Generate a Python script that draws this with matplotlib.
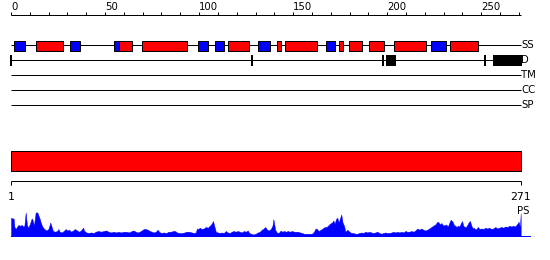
import matplotlib
matplotlib.use("Agg")
import matplotlib.pyplot as plt
from matplotlib.patches import Rectangle
import numpy as np

# ---------------- data ----------------
seq_length = 271
track_names = ["SS", "D", "TM", "CC", "SP"]
top_tick_labels = [0, 50, 100, 150, 200, 250]

# secondary structure elements (H = helix red, E = strand blue), residue ranges
ss_type = ["E", "H", "E", "E", "H", "H", "E", "E", "H", "E",
           "H", "H", "E", "H", "H", "H", "H", "E", "H"]
ss_start = [2, 14, 32, 55, 58, 70, 100, 109, 116, 132,
            142, 146, 168, 175, 180, 191, 204, 224, 234]
ss_end = [7, 27, 36, 57, 64, 93, 104, 113, 126, 137,
          143, 162, 172, 176, 186, 198, 220, 231, 248]

# disordered regions
dis_start = [0, 128, 198, 200, 252, 257]
dis_end = [0, 128, 198, 204, 252, 271]

# domain bar
domain_start = [0]
domain_end = [271]
bottom_labels = ["1", "271"]

# PS profile (position, score 0-100)
ps_pos = [0, 0, 0.7, 1.4, 1.8, 2.5, 3.2, 3.9, 4.8, 5.7, 6.6, 7.1, 7.8, 8.5, 9.2, 10.1,
          11.0, 11.5, 12.2, 13.1, 14.0, 14.5, 15.2, 16.0, 16.7, 17.7, 18.8, 19.9, 20.9,
          21.6, 22.3, 23.4, 24.5, 25.2, 25.9, 27.0, 28.0, 29.1, 29.8, 30.9, 31.9, 33.0,
          34.0, 35.1, 36.2, 37.2, 38.3, 39.0, 40.1, 41.1, 42.6, 44.0, 45.0, 46.5, 47.9,
          49.3, 50.7, 51.8, 53.2, 54.6, 56.0, 57.1, 58.5, 59.9, 61.3, 62.8, 64.2, 65.2,
          66.3, 67.4, 68.4, 69.5, 70.6, 71.6, 72.7, 73.8, 74.8, 75.9, 77.0, 78.0, 78.7,
          79.8, 81.2, 82.6, 83.7, 85.1, 86.2, 87.2, 88.3, 89.4, 90.8, 92.2, 93.3, 94.7,
          96.1, 97.2, 98.2, 98.9, 99.6, 100.4, 101.4, 102.5, 103.5, 104.6, 105.7, 106.7,
          107.4, 108.2, 108.9, 109.9, 111.0, 112.1, 113.1, 114.2, 115.2, 116.3, 117.4,
          118.4, 119.5, 120.6, 121.6, 122.7, 123.8, 124.8, 125.9, 126.6, 127.7, 128.7,
          130.1, 131.2, 132.3, 133.3, 134.4, 135.1, 136.2, 137.2, 138.3, 139.0, 139.5,
          140.5, 141.3, 142.3, 143.4, 144.1, 145.2, 146.2, 147.3, 148.3, 149.4, 150.5,
          151.5, 152.6, 153.7, 154.7, 155.8, 157.2, 158.6, 160.0, 161.1, 161.9, 162.6,
          163.6, 164.7, 165.7, 166.8, 167.8, 168.5, 169.6, 170.7, 171.4, 172.1, 172.8,
          173.5, 174.2, 174.9, 175.6, 176.3, 177.1, 177.8, 178.8, 179.9, 180.9, 182.0,
          183.1, 184.1, 185.2, 186.3, 187.3, 188.4, 189.5, 190.5, 191.6, 192.6, 193.7,
          194.8, 195.8, 196.9, 198.0, 199.0, 200.1, 201.2, 202.3, 203.3, 204.4, 205.4,
          206.5, 207.6, 208.6, 209.7, 210.7, 211.8, 212.9, 213.9, 215.0, 216.0, 217.1,
          218.2, 219.2, 220.3, 221.3, 222.4, 223.5, 224.5, 225.6, 226.7, 227.4, 228.1,
          228.8, 229.9, 230.6, 231.3, 232.3, 233.1, 233.8, 234.8, 235.5, 236.2, 236.9,
          237.6, 238.4, 239.1, 239.8, 240.5, 241.2, 241.9, 242.6, 243.3, 244.0, 244.8,
          245.5, 246.2, 246.9, 247.6, 248.3, 249.0, 250.1, 251.1, 252.2, 253.3, 254.3,
          255.4, 256.4, 257.5, 258.6, 259.6, 260.7, 261.8, 262.8, 263.9, 265.0, 266.0,
          267.1, 268.1, 269.2, 269.9, 270.6, 271.0, 271.0]
ps_val = [0, 72, 69, 69, 36, 27, 36, 43, 40, 43, 36, 40, 93, 43, 32, 49,
          69, 63, 40, 93, 93, 83, 69, 49, 36, 27, 21, 27, 53,
          36, 19, 16, 19, 27, 16, 13, 19, 27, 21, 24, 16, 21,
          27, 21, 16, 21, 32, 19, 13, 11, 13, 11, 16, 19, 16,
          19, 21, 16, 13, 16, 13, 16, 13, 16, 16, 13, 19, 21,
          16, 13, 16, 21, 27, 27, 24, 19, 16, 13, 16, 24, 16,
          11, 13, 11, 16, 16, 19, 19, 13, 11, 11, 13, 16, 16,
          13, 11, 13, 29, 27, 32, 27, 29, 35, 32, 40, 48,
          59, 36, 16, 13, 11, 13, 11, 19, 13, 11, 16,
          19, 16, 19, 16, 13, 19, 16, 21, 11, 8, 5,
          8, 13, 16, 24, 29, 35, 24, 21, 29, 40, 66,
          23, 13, 11, 21, 16, 19, 16, 19, 16, 19, 16,
          16, 16, 13, 11, 8, 8, 8, 8, 16, 29, 27,
          19, 24, 29, 35, 35, 40, 48, 53, 61, 48, 67,
          72, 53, 69, 85, 53, 40, 16, 24, 16, 11, 11,
          8, 8, 11, 13, 11, 16, 13, 16, 13, 11, 13,
          16, 11, 8, 11, 13, 11, 11, 13, 16, 13, 16,
          13, 16, 13, 19, 16, 16, 19, 16, 21, 29, 24,
          29, 24, 21, 24, 29, 35, 40, 45, 56, 53, 45,
          51, 40, 43, 45, 37, 53, 64, 56, 43, 40, 35,
          40, 37, 48, 59, 40, 35, 35, 43, 53, 59, 40,
          29, 32, 24, 29, 35, 27, 29, 27, 32, 29, 32,
          27, 29, 35, 29, 32, 35, 32, 37, 35, 40, 37,
          40, 37, 48, 56, 35, 90, 0]

# ---------------- layout ----------------
W, H = 550, 260
x0_px, px_per_res = 11.0, 1.8808
xlim = (-x0_px / px_per_res, (W - x0_px) / px_per_res)
lw1 = 0.72  # one pixel

fig = plt.figure(figsize=(5.5, 2.6), dpi=100)
ax = fig.add_axes([0, 0, 1, 1])
ax.set_xlim(*xlim)
ax.set_ylim(H, 0)
ax.axis("off")

# top ruler
ax.hlines(15, 0, seq_length, color="black", lw=lw1)
ax.vlines(np.arange(0, seq_length, 10), 12, 15, color="black", lw=lw1)
for t in top_tick_labels:
    ax.text(t, 10, str(t), ha="left", va="baseline", fontsize=7.3, color="black")

# tracks
track_y = [45, 60, 75, 90, 105]
for name, y in zip(track_names, track_y):
    ax.hlines(y, 0, seq_length, color="black", lw=lw1)
    ax.text(seq_length + 0.4, y, name, ha="left", va="center", fontsize=7.3, color="black")

ss_colors = {"H": "#ff0000", "E": "#0000ff"}
for t, s, e in zip(ss_type, ss_start, ss_end):
    ax.add_patch(Rectangle((s - 0.5, 40.5), e - s + 1, 10, facecolor=ss_colors[t],
                           edgecolor="black", lw=lw1, zorder=3))

for s, e in zip(dis_start, dis_end):
    ax.add_patch(Rectangle((s - 0.5, 55.2), e - s + 1, 10.5, facecolor="black",
                           edgecolor="none", zorder=3))

# domain bar
for s, e in zip(domain_start, domain_end):
    ax.add_patch(Rectangle((s, 150.5), e - s, 20, facecolor="#ff0000",
                           edgecolor="black", lw=lw1, zorder=3))

# bottom ruler
ax.hlines(181, 0, seq_length, color="black", lw=lw1)
ax.vlines([0, seq_length], 181, 185, color="black", lw=lw1)
ax.text(0, 200.5, bottom_labels[0], ha="center", va="baseline", fontsize=7.8, color="black")
ax.text(seq_length, 200.5, bottom_labels[1], ha="center", va="baseline", fontsize=7.8, color="black")
ax.text(seq_length + 1.2, 213.5, "PS", ha="center", va="baseline", fontsize=7.3, color="black")

# profile
axp = fig.add_axes([0, (H - 235.7) / H, 1, 25 / H])
axp.set_xlim(*xlim)
axp.set_ylim(0, 100)
axp.axis("off")
axp.fill_between(ps_pos, 0, ps_val, color="#0000ff", lw=0.3)
axp.plot([0, (530 - x0_px) / px_per_res], [0, 0], color="#0000ff", lw=lw1, clip_on=False)

fig.savefig("out.png", dpi=100)
